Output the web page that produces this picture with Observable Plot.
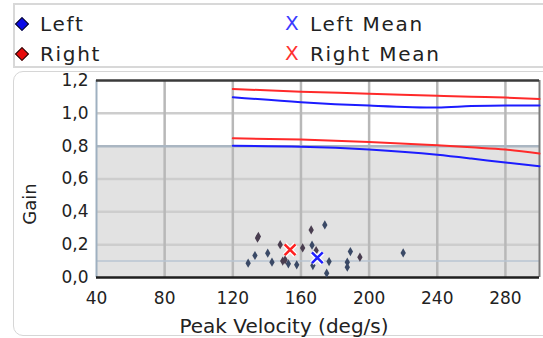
<!DOCTYPE html>
<html>
<head>
<meta charset="utf-8">
<script src="https://cdn.jsdelivr.net/npm/d3@7"></script>
<script src="https://cdn.jsdelivr.net/npm/@observablehq/plot@0.6"></script>
<style>
  body { margin: 0; background: #fff; font-family: "DejaVu Sans", sans-serif; }
  #wrap { position: relative; width: 543px; height: 338px; overflow: hidden; }
  #legend { position: absolute; left: 13px; top: 3px; width: 580px; height: 65px;
            border: 2px solid #d8d8d8; box-sizing: border-box; }
  .item { position: absolute; font-size: 20px; letter-spacing: 1.7px; color: #222; line-height: 20px; white-space: nowrap; }
  .dia { position: absolute; width: 10px; height: 10px; transform: rotate(45deg);
         border: 1.5px solid #111; box-sizing: border-box; }
  .xm { position: absolute; font-size: 20px; line-height: 20px; }
  #panel { position: absolute; left: 13px; top: 71px; width: 580px; height: 265px;
           border: 1.5px solid #d6d6d6; border-radius: 10px; box-sizing: border-box; }
  #chart { position: absolute; left: 0; top: 60px; }
  #ylabel { position: absolute; left: 30px; top: 204px; font-size: 18px; color: #222;
            transform: translate(-50%, -50%) rotate(-90deg); white-space: nowrap; line-height: 20px; }
</style>
</head>
<body>
<div id="wrap">
  <div id="legend"></div>
  <div id="panel"></div>
  <div id="chart"></div>
  <div id="ylabel">Gain</div>
</div>
<script>
// Axis ticks
const xTicks = [40, 80, 120, 160, 200, 240, 280];
const yTicks = [0, 0.2, 0.4, 0.6, 0.8, 1.0, 1.2];
const gridY = [0.2, 0.4, 0.6, 1.0];

// Shaded gain band and reference line
const bandLow = 0;
const bandHigh = 0.8;
const refGain = 0.1;

// Gain limit curves over peak velocity
const curveVel = [120, 160, 200, 240, 260, 280, 300];
const rightUpper = [1.148, 1.132, 1.120, 1.107, 1.101, 1.096, 1.088];
const leftUpper  = [1.098, 1.068, 1.047, 1.035, 1.044, 1.048, 1.048];
const rightLower = [0.848, 0.840, 0.825, 0.805, 0.793, 0.780, 0.755];
const leftLower  = [0.802, 0.797, 0.780, 0.748, 0.725, 0.700, 0.678];

// Individual impulses
const leftVel  = [129, 133, 140.5, 143, 152.6, 157.5, 166.5, 167, 174, 176.5, 175.1, 189, 187.2, 187.2, 220];
const leftGain = [0.087, 0.134, 0.148, 0.093, 0.083, 0.077, 0.197, 0.073, 0.32, 0.097, 0.026, 0.158, 0.093, 0.063, 0.15];
const rightVel  = [134.5, 135, 147.8, 149.3, 150.7, 161, 166, 168.9, 194.6];
const rightGain = [0.24, 0.25, 0.20, 0.10, 0.108, 0.18, 0.29, 0.164, 0.124];

// Means
const leftMean  = {vel: 169.6, gain: 0.12};
const rightMean = {vel: 153.6, gain: 0.169};

// Legend
const legendItems = [
  {label: "Left", kind: "dia", color: "#0a0ae8", col: 0, row: 0},
  {label: "Right", kind: "dia", color: "#e80a0a", col: 0, row: 1},
  {label: "Left Mean", kind: "x", color: "#3a3aff", col: 1, row: 0},
  {label: "Right Mean", kind: "x", color: "#ff3030", col: 1, row: 1}
];

const legend = document.getElementById("legend");
for (const it of legendItems) {
  const top = it.row === 0 ? 9 : 39;
  if (it.kind === "dia") {
    const d = document.createElement("div");
    d.className = "dia";
    d.style.left = "2px";
    d.style.top = (top + 5) + "px";
    d.style.background = it.color;
    legend.appendChild(d);
  } else {
    const x = document.createElement("div");
    x.className = "xm";
    x.textContent = "X";
    x.style.color = it.color;
    x.style.left = "270px";
    x.style.top = (top - 1) + "px";
    legend.appendChild(x);
  }
  const t = document.createElement("div");
  t.className = "item";
  t.textContent = it.label;
  t.style.left = (it.col === 0 ? 25 : 295) + "px";
  t.style.top = top + "px";
  legend.appendChild(t);
}

const comma = d => d.toFixed(1).replace(".", ",");
const toPts = (xs, ys) => xs.map((x, i) => ({x, y: ys[i]}));

const chart = Plot.plot({
  width: 543,
  height: 278,
  marginLeft: 96,
  marginRight: 4,
  marginTop: 20,
  marginBottom: 61,
  style: {background: "transparent", fontFamily: "DejaVu Sans, sans-serif", fontSize: "17px", color: "#222"},
  x: {domain: [40, 300], ticks: xTicks, tickSize: 0, tickPadding: 14, label: null},
  y: {domain: [0, 1.2], ticks: yTicks, tickSize: 0, tickPadding: 8, tickFormat: comma, label: null},
  marks: [
    Plot.rect([[bandLow, bandHigh]], {y1: d => d[0], y2: d => d[1], fill: "#e2e2e2"}),
    Plot.ruleY(gridY, {stroke: "#cdcdcd", strokeWidth: 2.5}),
    Plot.ruleX(xTicks.filter(d => d > 40), {stroke: "#b8b8b8", strokeWidth: 2.5}),
    Plot.ruleY([bandHigh], {stroke: "#aab6c2", strokeWidth: 2.5}),
    Plot.ruleY([refGain], {stroke: "#b8c5d2", strokeWidth: 1.5}),
    Plot.ruleX([40], {stroke: "#9fb0c0", strokeWidth: 2}),
    Plot.ruleX([300], {stroke: "#7a7a7a", strokeWidth: 2}),
    Plot.ruleY([1.2], {stroke: "#3a3a3a", strokeWidth: 2.5}),
    Plot.ruleY([0], {stroke: "#1e1e1e", strokeWidth: 2.5}),
    Plot.line(toPts(curveVel, rightUpper), {x: "x", y: "y", stroke: "#ff2a2a", strokeWidth: 2, curve: "monotone-x"}),
    Plot.line(toPts(curveVel, leftUpper), {x: "x", y: "y", stroke: "#1c1cff", strokeWidth: 2, curve: "monotone-x"}),
    Plot.line(toPts(curveVel, rightLower), {x: "x", y: "y", stroke: "#ff2a2a", strokeWidth: 2, curve: "monotone-x"}),
    Plot.line(toPts(curveVel, leftLower), {x: "x", y: "y", stroke: "#1c1cff", strokeWidth: 2, curve: "monotone-x"}),
    Plot.dot(toPts(leftVel, leftGain), {x: "x", y: "y", symbol: "diamond", r: 2.8, fill: "#3a4966", stroke: "none"}),
    Plot.dot(toPts(rightVel, rightGain), {x: "x", y: "y", symbol: "diamond", r: 2.8, fill: "#4a3e50", stroke: "none"}),
    Plot.dot([leftMean, rightMean], {x: "vel", y: "gain", symbol: "times", r: 5, stroke: "#ffffff", strokeWidth: 5}),
    Plot.dot([leftMean], {x: "vel", y: "gain", symbol: "times", r: 5, stroke: "#1f1fff", strokeWidth: 2.5}),
    Plot.dot([rightMean], {x: "vel", y: "gain", symbol: "times", r: 5, stroke: "#ff2020", strokeWidth: 2.5}),
    Plot.axisX({ticks: xTicks, tickSize: 0, tickPadding: 14, label: null}),
    Plot.axisY({ticks: yTicks, tickSize: 0, tickPadding: 8, tickFormat: comma, label: null}),
    Plot.text(["Peak Velocity (deg/s)"], {frameAnchor: "bottom", text: d => d, dx: -34, dy: 55, fontSize: 20, fill: "#222"})
  ]
});
document.getElementById("chart").appendChild(chart);
</script>
</body>
</html>
